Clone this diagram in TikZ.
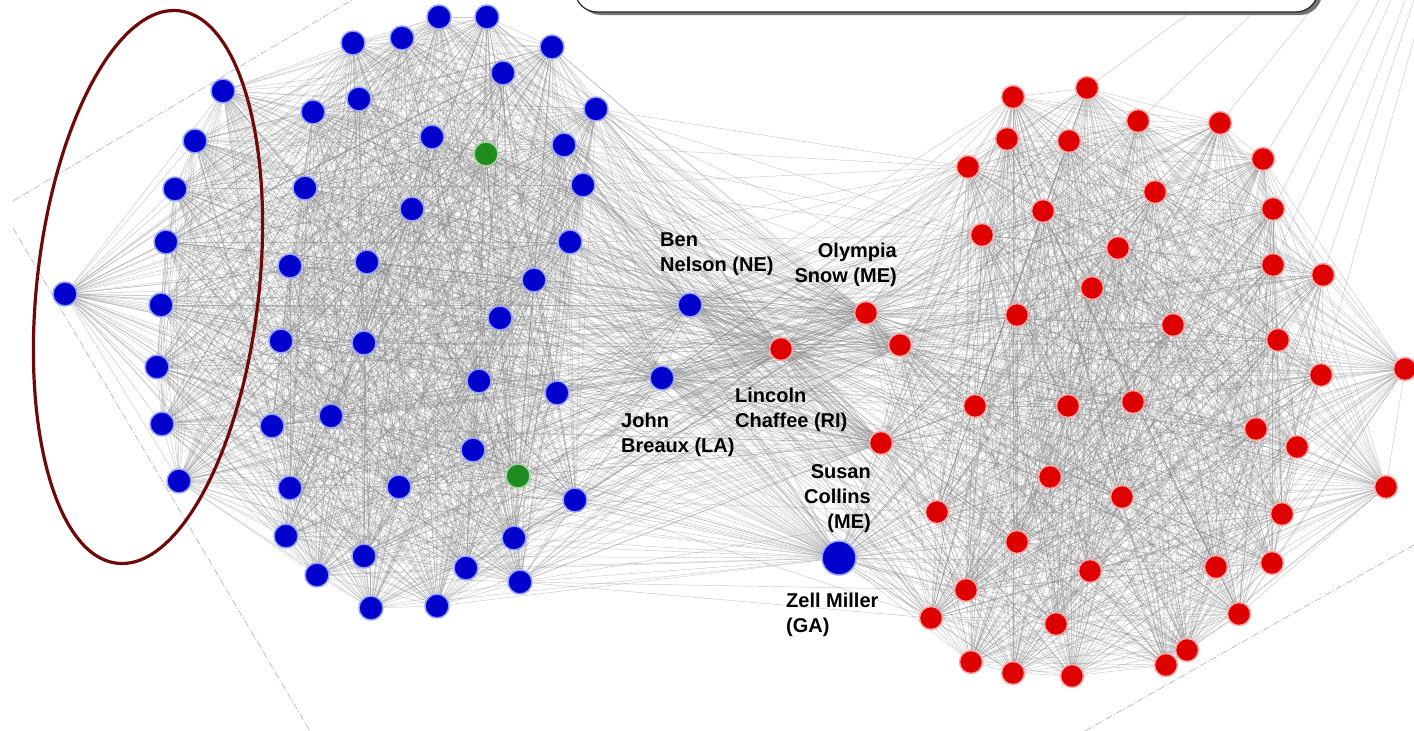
\documentclass[tikz,border=0pt]{standalone}
\usepackage{fontspec}
\setmainfont{Liberation Sans}
\usetikzlibrary{backgrounds}
\definecolor{dem}{RGB}{0,0,205}
\definecolor{demglow}{RGB}{150,160,255}
\definecolor{rep}{RGB}{222,0,0}
\definecolor{repglow}{RGB}{255,165,165}
\definecolor{ind}{RGB}{30,140,30}
\definecolor{ring}{RGB}{110,10,10}

\begin{document}
\begin{tikzpicture}[x=1pt,y=-1pt,
  dnode/.style={circle,fill=dem,draw=demglow,line width=1.5pt,minimum size=24pt,inner sep=0pt},
  rnode/.style={circle,fill=rep,draw=repglow,line width=1.5pt,minimum size=23pt,inner sep=0pt},
  inode/.style={dnode,fill=ind,draw=ind!40},
  vote/.style={draw=black!50,draw opacity=0.42,line width=0.45pt},
  guide/.style={draw=black!30,line width=0.6pt,dash pattern=on 7pt off 2pt on 1pt off 2pt},
  tag/.style={font=\bfseries\fontsize{20}{25}\selectfont,inner sep=0pt}]
\useasboundingbox (0,0) rectangle (1414,731);
\node[dnode] (d1) at (65,294) {};
\node[dnode] (d2) at (223,91) {};
\node[dnode] (d3) at (195,141) {};
\node[dnode] (d4) at (175,189) {};
\node[dnode] (d5) at (166,242) {};
\node[dnode] (d6) at (161,305) {};
\node[dnode] (d7) at (157,367) {};
\node[dnode] (d8) at (162,424) {};
\node[dnode] (d9) at (179,481) {};
\node[dnode] (d10) at (353,43) {};
\node[dnode] (d11) at (402,38) {};
\node[dnode] (d12) at (439,17) {};
\node[dnode] (d13) at (487,17) {};
\node[dnode] (d14) at (552,47) {};
\node[dnode] (d15) at (503,73) {};
\node[dnode] (d16) at (313,112) {};
\node[dnode] (d17) at (359,99) {};
\node[dnode] (d18) at (432,137) {};
\node[dnode] (d19) at (596,109) {};
\node[dnode] (d20) at (564,145) {};
\node[dnode] (d21) at (583,185) {};
\node[dnode] (d22) at (305,188) {};
\node[dnode] (d23) at (412,209) {};
\node[dnode] (d24) at (570,242) {};
\node[dnode] (d25) at (290,266) {};
\node[dnode] (d26) at (367,262) {};
\node[dnode] (d27) at (534,280) {};
\node[dnode] (d28) at (500,318) {};
\node[dnode] (d29) at (281,341) {};
\node[dnode] (d30) at (364,343) {};
\node[dnode] (d31) at (479,381) {};
\node[dnode] (d32) at (557,393) {};
\node[dnode] (d33) at (331,416) {};
\node[dnode] (d34) at (272,426) {};
\node[dnode] (d35) at (473,450) {};
\node[dnode] (d36) at (290,488) {};
\node[dnode] (d37) at (399,487) {};
\node[dnode] (d38) at (575,500) {};
\node[dnode] (d39) at (286,536) {};
\node[dnode] (d40) at (514,538) {};
\node[dnode] (d41) at (364,556) {};
\node[dnode] (d42) at (466,568) {};
\node[dnode] (d43) at (317,575) {};
\node[dnode] (d44) at (520,582) {};
\node[dnode] (d45) at (371,608) {};
\node[dnode] (d46) at (437,606) {};
\node[inode] (d47) at (486,154) {};
\node[inode] (d48) at (518,476) {};
\node[rnode] (r1) at (1013,97) {};
\node[rnode] (r2) at (1087,88) {};
\node[rnode] (r3) at (1007,139) {};
\node[rnode] (r4) at (1069,141) {};
\node[rnode] (r5) at (1138,121) {};
\node[rnode] (r6) at (1220,123) {};
\node[rnode] (r7) at (1263,159) {};
\node[rnode] (r8) at (968,167) {};
\node[rnode] (r9) at (1155,192) {};
\node[rnode] (r10) at (1273,209) {};
\node[rnode] (r11) at (1043,211) {};
\node[rnode] (r12) at (982,235) {};
\node[rnode] (r13) at (1118,248) {};
\node[rnode] (r14) at (1273,265) {};
\node[rnode] (r15) at (1323,275) {};
\node[rnode] (r16) at (1092,288) {};
\node[rnode] (r17) at (1017,315) {};
\node[rnode] (r18) at (1173,325) {};
\node[rnode] (r19) at (1278,340) {};
\node[rnode] (r20) at (1405,369) {};
\node[rnode] (r21) at (1321,375) {};
\node[rnode] (r22) at (975,406) {};
\node[rnode] (r23) at (1068,406) {};
\node[rnode] (r24) at (1133,402) {};
\node[rnode] (r25) at (1256,429) {};
\node[rnode] (r26) at (1297,447) {};
\node[rnode] (r27) at (1050,477) {};
\node[rnode] (r28) at (1122,497) {};
\node[rnode] (r29) at (1386,487) {};
\node[rnode] (r30) at (937,512) {};
\node[rnode] (r31) at (1282,514) {};
\node[rnode] (r32) at (1017,542) {};
\node[rnode] (r33) at (1090,571) {};
\node[rnode] (r34) at (1216,567) {};
\node[rnode] (r35) at (1272,563) {};
\node[rnode] (r36) at (966,590) {};
\node[rnode] (r37) at (1056,624) {};
\node[rnode] (r38) at (931,618) {};
\node[rnode] (r39) at (1239,614) {};
\node[rnode] (r40) at (1187,650) {};
\node[rnode] (r41) at (1166,665) {};
\node[rnode] (r42) at (971,662) {};
\node[rnode] (r43) at (1013,673) {};
\node[rnode] (r44) at (1072,676) {};
\node[dnode] (nelson) at (690,305) {};
\node[dnode] (breaux) at (662,378) {};
\node[dnode,minimum size=34pt] (miller) at (839,558) {};
\node[rnode] (chafee) at (781,349) {};
\node[rnode] (snowe) at (866,313) {};
\node[rnode] (rmid) at (900,345) {};
\node[rnode] (collins) at (881,443) {};
\coordinate (far) at (1480,-200);
\begin{scope}[on background layer]
\fill[white] (0,0) rectangle (1414,731);
\draw[guide] (13,201) -- (352,0);
\draw[guide] (13,228) -- (310,731);
\draw[guide] (1085,731) -- (1414,545);
\foreach \i in {1,...,47}{
  \pgfmathtruncatemacro\nxt{\i+1}
  \foreach \j in {\nxt,...,48} \draw[vote] (d\i) -- (d\j);
}
\foreach \i in {1,...,43}{
  \pgfmathtruncatemacro\nxt{\i+1}
  \foreach \j in {\nxt,...,44} \draw[vote] (r\i) -- (r\j);
}
\foreach \c in {nelson,breaux,miller,chafee,snowe,rmid,collins}{
  \foreach \i in {1,...,48} \draw[vote] (\c) -- (d\i);
  \foreach \i in {1,...,44} \draw[vote] (\c) -- (r\i);
}
\draw[vote] (nelson) -- (breaux) -- (chafee) -- (snowe) -- (rmid) -- (collins) -- (miller) -- (chafee) -- (nelson) -- (snowe);
\draw[vote] (breaux) -- (miller) (collins) -- (chafee) (rmid) -- (chafee);
\foreach \a in {19,20,21,24,27,32,38,44}
  \foreach \b in {8,12,17,22,30,36,38} \draw[vote] (d\a) -- (r\b);
\foreach \k in {2,5,6,7,10,14,15,19,21}
  \draw[vote] (r\k) -- (far);
\end{scope}
\draw[ring,line width=3.2pt,rotate around={-6.4:(148,287)}] (148,287) ellipse [x radius=111, y radius=278];
\fill[black!55,rounded corners=22pt] (579,-40) rectangle (1322,15);
\draw[black!85,fill=white,line width=1.2pt,rounded corners=22pt] (575,-40) rectangle (1318,12);
\node[tag,align=left,anchor=north west] (nelsontag) at (660,233) {Ben\\Nelson (NE)};
\node[tag,align=right,anchor=north east] (snowetag) at (897,243) {Olympia\\Snow (ME)};
\node[tag,align=left,anchor=north west] (chafeetag) at (735,388) {Lincoln\\Chaffee (RI)};
\node[tag,align=left,anchor=north west] (breauxtag) at (621,413) {John\\Breaux (LA)};
\node[tag,align=right,anchor=north east] (collinstag) at (871,464) {Susan\\Collins\\(ME)};
\node[tag,align=left,anchor=north west] (millertag) at (786,593) {Zell Miller\\(GA)};
\end{tikzpicture}
\end{document}
